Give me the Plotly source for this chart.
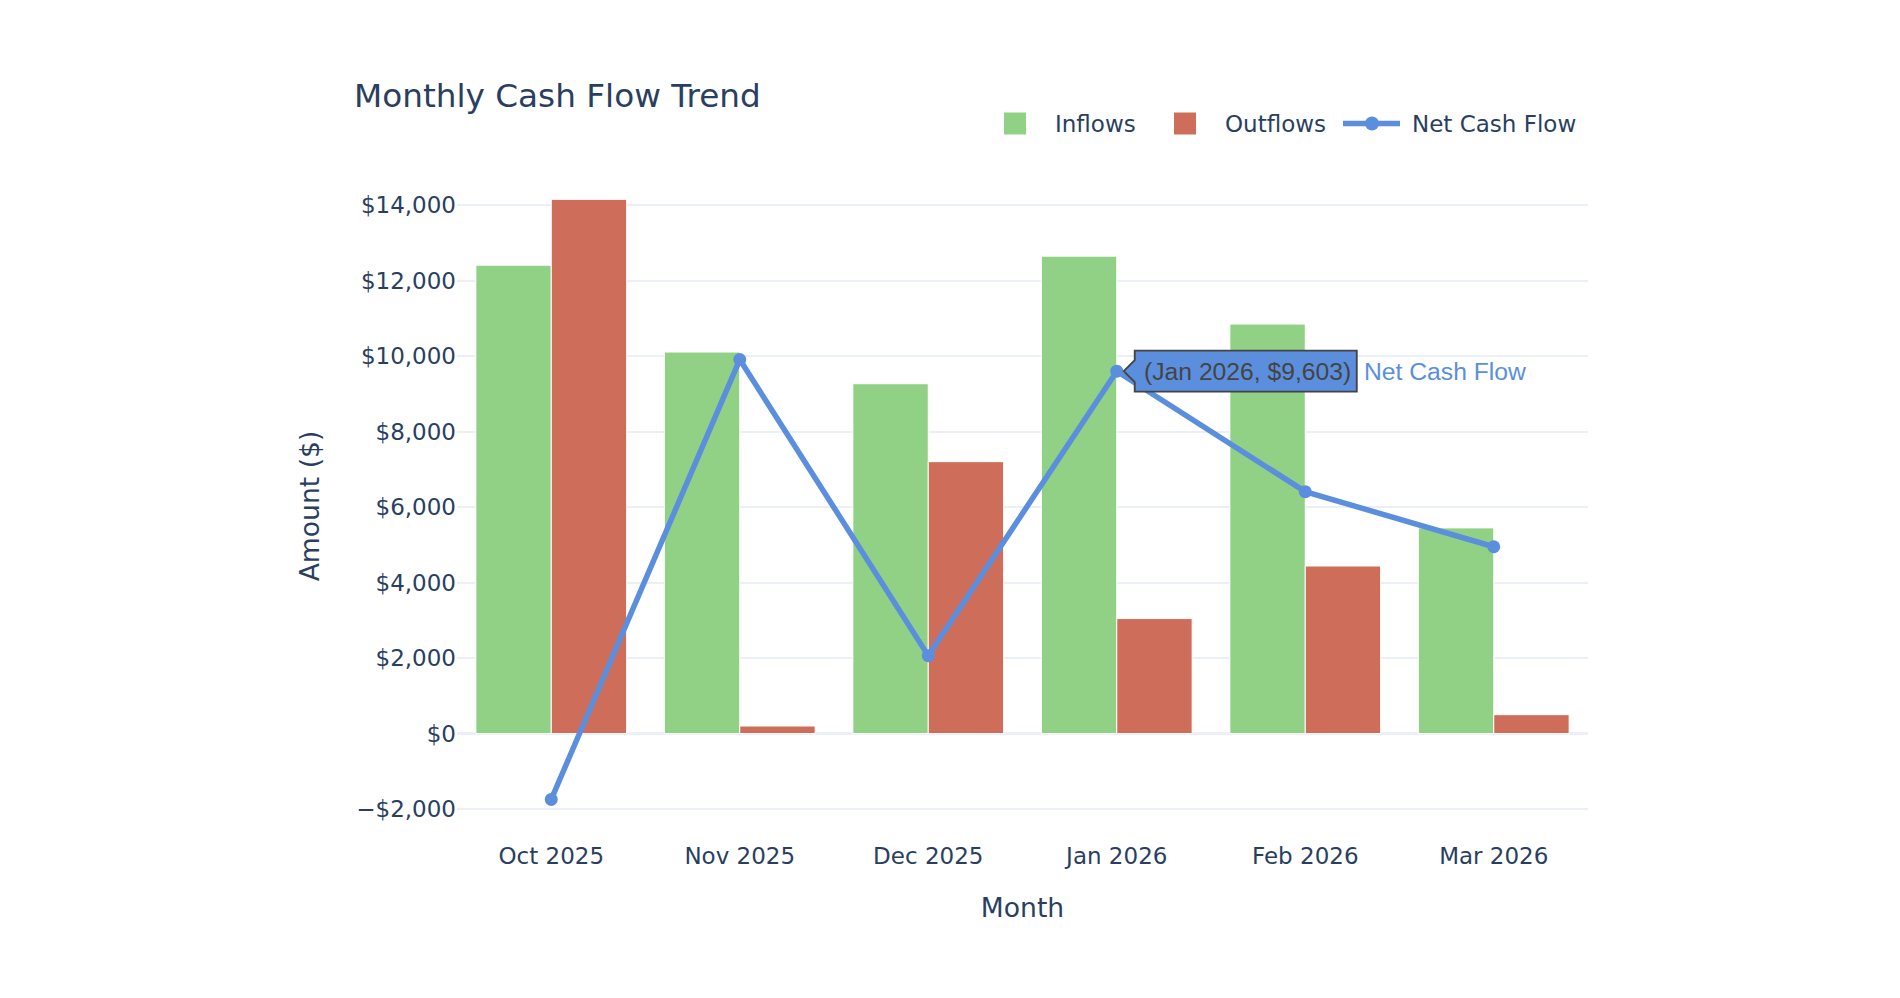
import plotly.graph_objects as go

months = ["Oct 2025", "Nov 2025", "Dec 2025", "Jan 2026", "Feb 2026", "Mar 2026"]
inflows = [12410, 10110, 9270, 12650, 10850, 5450]
outflows = [14155, 200, 7205, 3047, 4440, 500]
net_cash_flow = [-1745, 9910, 2065, 9603, 6410, 4950]

hover_month = "Jan 2026"

green = "#91D186"
red = "#CF6D5B"
blue = "#5B8FDD"
font_main = "Verdana, DejaVu Sans, sans-serif"

# figure size / plot box in px (page body has an 8px margin)
W, H = 1884, 982
L, R, T, B = 449, 304, 164, 150


def px(x):
    return (x - L) / (W - L - R)


def py(y):
    return (H - B - y) / (H - T - B)


fig = go.Figure()

fig.add_trace(go.Bar(
    x=months, y=inflows, name="Inflows",
    marker=dict(color=green, line=dict(color="white", width=1)),
))
fig.add_trace(go.Bar(
    x=months, y=outflows, name="Outflows",
    marker=dict(color=red, line=dict(color="white", width=1)),
))
fig.add_trace(go.Scatter(
    x=months, y=net_cash_flow, name="Net Cash Flow",
    mode="lines+markers",
    line=dict(color=blue, width=5.5),
    marker=dict(color=blue, size=13),
))

# static copy of the hover label shown on the Jan 2026 point
hi = months.index(hover_month)
hv = net_cash_flow[hi]
fig.add_shape(
    type="path", xref="x", yref="y",
    xsizemode="pixel", ysizemode="pixel",
    xanchor=hi, yanchor=hv,
    path="M7,0 L18,11 L18,20.5 L240,20.5 L240,-20.5 L18,-20.5 L18,-11 Z",
    fillcolor=blue, line=dict(color="#444", width=1.9),
    layer="above",
)
fig.add_annotation(
    x=hover_month, y=hv, xanchor="left", yanchor="middle",
    xshift=25, showarrow=False,
    text=f"({hover_month}, ${hv:,})",
    font=dict(family="Arial, Liberation Sans", size=24.7, color="#444"),
)
fig.add_annotation(
    x=hover_month, y=hv, xanchor="left", yanchor="middle",
    xshift=245, showarrow=False,
    text="Net Cash Flow",
    font=dict(family="Arial, Liberation Sans", size=24.7, color=blue),
)

# legend drawn by hand so the swatches keep the reference size
ly = 115.5
for x0, color, label in [(996, green, "Inflows"), (1166, red, "Outflows")]:
    fig.add_shape(type="rect", xref="paper", yref="paper",
                  x0=px(x0), x1=px(x0 + 22), y0=py(ly - 11), y1=py(ly + 11),
                  fillcolor=color, line=dict(color=color, width=0))
    fig.add_annotation(xref="paper", yref="paper", x=px(x0 + 49), y=py(ly),
                       xanchor="left", yanchor="middle", showarrow=False,
                       text=label, font=dict(size=23))
fig.add_shape(type="line", xref="paper", yref="paper",
              x0=px(1335), x1=px(1392), y0=py(ly), y1=py(ly),
              line=dict(color=blue, width=5.5))
fig.add_shape(type="circle", xref="paper", yref="paper",
              x0=px(1357), x1=px(1371), y0=py(ly - 7), y1=py(ly + 7),
              fillcolor=blue, line=dict(color=blue, width=0))
fig.add_annotation(xref="paper", yref="paper", x=px(1402), y=py(ly),
                   xanchor="left", yanchor="middle", showarrow=False,
                   text="Net Cash Flow", font=dict(size=23))

fig.update_layout(
    template="plotly_white",
    width=W, height=H,
    margin=dict(l=L, r=R, t=T, b=B),
    showlegend=False,
    font=dict(family=font_main, size=23, color="#2a3f5f"),
    title=dict(text="Monthly Cash Flow Trend", x=346 / W, xanchor="left",
               y=1 - 88 / H, yanchor="middle", font=dict(size=32.7)),
    barmode="group", bargap=0.2,
    xaxis=dict(title=dict(text="Month", font=dict(size=26.6), standoff=30),
               showgrid=False),
    yaxis=dict(title=dict(text="Amount ($)", font=dict(size=26.6), standoff=28),
               range=[-2820, 14880], dtick=2000, tickformat="$,",
               gridcolor="#EBF0F8", gridwidth=1.5,
               zerolinecolor="#EBF0F8", zerolinewidth=3),
)

fig.write_html("out.html")
